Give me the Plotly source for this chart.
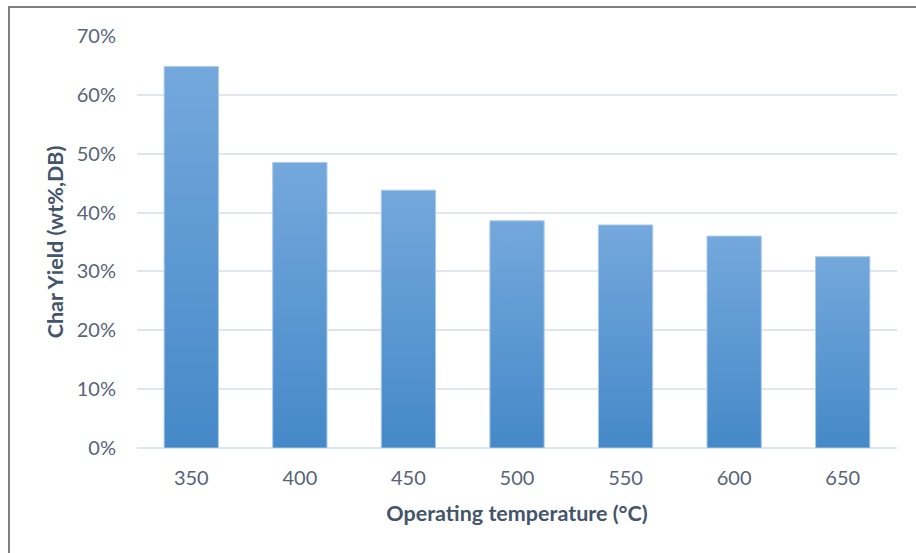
import plotly.graph_objects as go

# Char yield vs. operating temperature
temperatures = ["350", "400", "450", "500", "550", "600", "650"]
char_yield = [0.648, 0.485, 0.438, 0.386, 0.379, 0.360, 0.325]
y_ticks = [0, 0.1, 0.2, 0.3, 0.4, 0.5, 0.6, 0.7]

BAR_HALF = 0.25
TOP_COLOR = "#74A8DC"
BOTTOM_COLOR = "#4589C8"
EDGE_COLOR = "#A8CBEB"
TICK_COLOR = "#596478"
TITLE_COLOR = "#44546A"
GRID_COLOR = "#E1E6EE"
FONT = "Lato, 'Open Sans', sans-serif"

fig = go.Figure()

# Each bar is a filled rectangle with a vertical gradient (light at top, dark at base)
for i, (cat, v) in enumerate(zip(temperatures, char_yield)):
    x0, x1 = i - BAR_HALF, i + BAR_HALF
    fig.add_trace(go.Scatter(
        x=[x0, x1, x1, x0, x0],
        y=[0, 0, v, v, 0],
        mode="lines",
        fill="toself",
        fillgradient=dict(
            type="vertical",
            start=0,
            stop=v,
            colorscale=[[0, BOTTOM_COLOR], [1, TOP_COLOR]],
        ),
        line=dict(color=EDGE_COLOR, width=1),
        name=cat,
        hovertemplate=f"{cat} °C: {v:.1%}<extra></extra>",
        showlegend=False,
    ))

fig.update_layout(
    width=916,
    height=553,
    margin=dict(l=137, r=19, t=36, b=105),
    paper_bgcolor="white",
    plot_bgcolor="white",
    font=dict(family=FONT, color=TICK_COLOR, size=20),
    xaxis=dict(
        range=[-0.5, len(temperatures) - 0.5],
        tickmode="array",
        tickvals=list(range(len(temperatures))),
        ticktext=temperatures,
        showgrid=False,
        zeroline=False,
        showline=False,
        ticks="",
        ticklabelstandoff=16,
        tickfont=dict(size=20, color=TICK_COLOR),
        title=dict(
            text="Operating temperature (°C)",
            font=dict(size=21.5, color=TITLE_COLOR, family=FONT, weight="bold"),
            standoff=17,
        ),
        fixedrange=True,
    ),
    yaxis=dict(
        range=[0, 0.7],
        tickmode="array",
        tickvals=y_ticks,
        tickformat=".0%",
        showgrid=True,
        gridcolor=GRID_COLOR,
        gridwidth=1.5,
        zeroline=True,
        zerolinecolor=GRID_COLOR,
        zerolinewidth=1.5,
        showline=False,
        ticks="",
        ticklabelstandoff=20,
        tickfont=dict(size=20, color=TICK_COLOR),
        title=dict(
            text="Char Yield (wt%,DB)",
            font=dict(size=21.5, color=TITLE_COLOR, family=FONT, weight="bold"),
            standoff=7,
        ),
        fixedrange=True,
    ),
    shapes=[
        # chart-area frame (top and left edges)
        dict(type="line", xref="paper", yref="paper",
             x0=(8 - 137) / 760, x1=1.05, y0=(448 - 7) / 412, y1=(448 - 7) / 412,
             line=dict(color="#808080", width=2)),
        dict(type="line", xref="paper", yref="paper",
             x0=(9 - 137) / 760, x1=(9 - 137) / 760, y0=(448 - 6) / 412, y1=-0.3,
             line=dict(color="#808080", width=2)),
    ],
)

fig.write_html("out.html")
